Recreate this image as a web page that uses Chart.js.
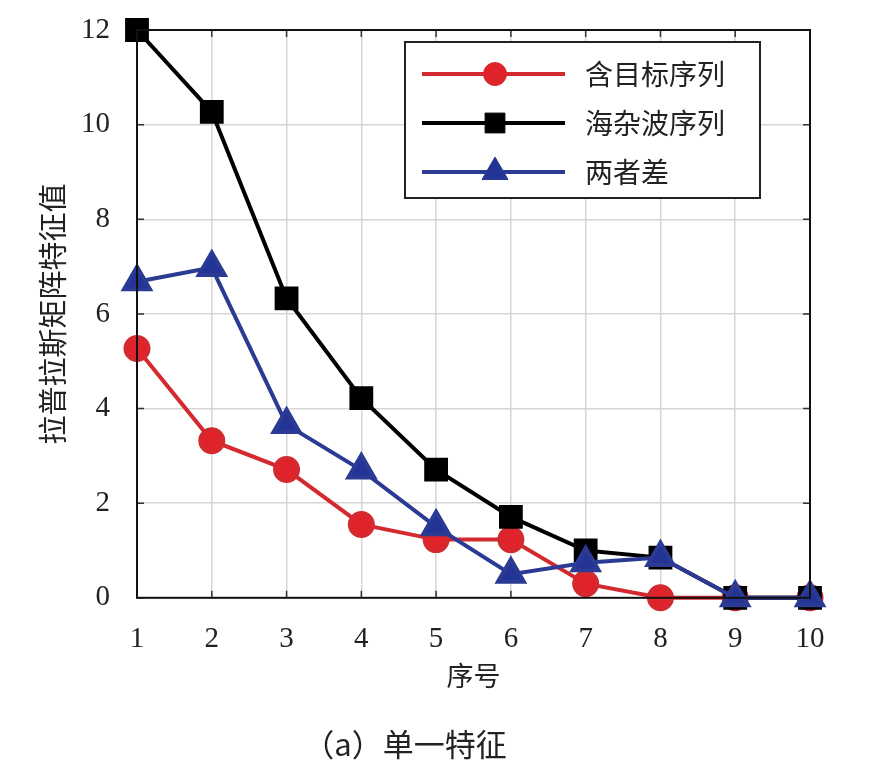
<!DOCTYPE html>
<html>
<head>
<meta charset="utf-8">
<script src="https://cdn.jsdelivr.net/npm/chart.js@4.4.1/dist/chart.umd.min.js"></script>
<style>
html, body { margin: 0; padding: 0; background: #fff; }
#wrap { width: 876px; height: 783px; }
</style>
</head>
<body>
<div id="wrap"><canvas id="chart" width="876" height="783"></canvas></div>
<script>
// data
var xLabels = ["1", "2", "3", "4", "5", "6", "7", "8", "9", "10"];
var targetSeq = [5.27, 3.32, 2.71, 1.55, 1.23, 1.23, 0.3, 0, 0, 0];
var clutterSeq = [12, 10.27, 6.33, 4.22, 2.71, 1.71, 1.0, 0.85, 0, 0];
var diffSeq = [6.68, 6.98, 3.66, 2.7, 1.5, 0.5, 0.74, 0.85, 0, 0];
var seriesNames = ["含目标序列", "海杂波序列", "两者差"];
var yTicks = [0, 2, 4, 6, 8, 10, 12];

var cjk = "'Noto Sans CJK SC', sans-serif";
var serif = "'Liberation Serif', 'DejaVu Serif', serif";

// legend drawn inside the plot, like the original figure
var innerLegend = {
    id: "innerLegend",
    afterDatasetsDraw: function(chart){
        var ctx = chart.ctx;
        var area = chart.chartArea;
        var boxRight = area.right - 50;
        var boxLeft = boxRight - 355;
        var boxTop = area.top + 12;
        var boxH = 156;
        ctx.save();
        ctx.fillStyle = "#fff";
        ctx.fillRect(boxLeft, boxTop, boxRight - boxLeft, boxH);
        ctx.strokeStyle = "#222";
        ctx.lineWidth = 2;
        ctx.strokeRect(boxLeft, boxTop, boxRight - boxLeft, boxH);
        var ds = chart.data.datasets;
        for(var i=0;i<ds.length;i++){
            var y = boxTop + 32 + i*49;
            ctx.strokeStyle = ds[i].borderColor;
            ctx.lineWidth = ds[i].borderWidth;
            ctx.beginPath();
            ctx.moveTo(boxLeft + 17, y);
            ctx.lineTo(boxLeft + 160, y);
            ctx.stroke();
            ctx.fillStyle = ds[i].pointBackgroundColor;
            ctx.strokeStyle = ds[i].pointBorderColor;
            ctx.lineWidth = 1;
            Chart.helpers.drawPoint(ctx, {
                pointStyle: ds[i].pointStyle,
                radius: ds[i].pointRadius,
                rotation: 0,
                borderWidth: 1
            }, boxLeft + 90, y);
            ctx.fillStyle = "#222";
            ctx.font = "28px " + cjk;
            ctx.textBaseline = "middle";
            ctx.textAlign = "left";
            ctx.fillText(ds[i].label, boxLeft + 180, y);
        }
        ctx.restore();
    }
};

// box round the plot plus small inward ticks on all four sides
var frame = {
    id: "frame",
    beforeDatasetsDraw: function(chart){
        var ctx = chart.ctx;
        var a = chart.chartArea;
        var xs = chart.scales.x, ys = chart.scales.y;
        ctx.save();
        ctx.strokeStyle = "#333";
        ctx.lineWidth = 1.5;
        ctx.beginPath();
        for(var i=0;i<xs.ticks.length;i++){
            var px = xs.getPixelForTick(i);
            ctx.moveTo(px, a.bottom); ctx.lineTo(px, a.bottom - 7);
            ctx.moveTo(px, a.top); ctx.lineTo(px, a.top + 7);
        }
        for(var j=0;j<ys.ticks.length;j++){
            var py = ys.getPixelForValue(ys.ticks[j].value);
            ctx.moveTo(a.left, py); ctx.lineTo(a.left + 7, py);
            ctx.moveTo(a.right, py); ctx.lineTo(a.right - 7, py);
        }
        ctx.stroke();
        ctx.restore();
    },
    afterDraw: function(chart){
        var ctx = chart.ctx;
        var a = chart.chartArea;
        ctx.save();
        ctx.strokeStyle = "#111";
        ctx.lineWidth = 2;
        ctx.strokeRect(a.left, a.top, a.right - a.left, a.bottom - a.top);
        ctx.restore();
    }
};

var data = {
    labels: xLabels,
    datasets: [{
        label: seriesNames[0],
        data: targetSeq,
        borderColor: "#d42a2f",
        backgroundColor: "#e0232b",
        pointBackgroundColor: "#e0232b",
        pointBorderColor: "#d42a2f",
        pointStyle: "circle",
        pointRadius: 11.5,
        borderWidth: 4,
        order: 2
    }, {
        label: seriesNames[1],
        data: clutterSeq,
        borderColor: "#000000",
        backgroundColor: "#000000",
        pointBackgroundColor: "#000000",
        pointBorderColor: "#000000",
        pointStyle: "rect",
        pointRadius: 14,
        borderWidth: 4,
        order: 1
    }, {
        label: seriesNames[2],
        data: diffSeq,
        borderColor: "#2b3a92",
        backgroundColor: "#233496",
        pointBackgroundColor: "#233496",
        pointBorderColor: "#2b3a92",
        pointStyle: "triangle",
        pointRadius: 15,
        borderWidth: 4,
        order: 0
    }]
};

var options = {
    responsive: false,
    animation: false,
    clip: false,
    layout: { padding: { left: 0, right: 66, top: 30, bottom: 20 } },
    plugins: {
        legend: { display: false },
        tooltip: { enabled: false },
        title: {
            display: true,
            position: "bottom",
            text: "（a）单一特征",
            color: "#222",
            font: { family: cjk, size: 31, weight: "normal" },
            padding: { top: 34, bottom: 0 }
        }
    },
    scales: {
        x: {
            type: "category",
            offset: false,
            grid: { color: "#d6d6d6", lineWidth: 1.5, drawTicks: false, offset: false },
            border: { display: false },
            ticks: {
                color: "#222",
                font: { family: serif, size: 29 },
                padding: 24,
                maxRotation: 0
            },
            title: {
                display: true,
                text: "序号",
                color: "#222",
                font: { family: cjk, size: 27 },
                padding: { top: 2, bottom: 0 }
            },
            afterFit: function(scale){ scale.height = 94; }
        },
        y: {
            min: 0,
            max: 12,
            afterBuildTicks: function(scale){
                scale.ticks = yTicks.map(function(v){ return { value: v }; });
            },
            grid: { color: "#d6d6d6", lineWidth: 1.5, drawTicks: false },
            border: { display: false },
            ticks: {
                color: "#222",
                font: { family: serif, size: 29 },
                padding: 27
            },
            title: {
                display: true,
                text: "拉普拉斯矩阵特征值",
                color: "#222",
                font: { family: cjk, size: 29 },
                padding: { top: 36, bottom: 0 }
            },
            afterFit: function(scale){
                scale.width = 137;
                scale.paddingTop = 0;
                scale.paddingBottom = 0;
            }
        }
    }
};

var chart = new Chart(document.getElementById("chart"), {
    type: "line",
    data: data,
    options: options,
    plugins: [innerLegend, frame]
});
</script>
</body>
</html>
